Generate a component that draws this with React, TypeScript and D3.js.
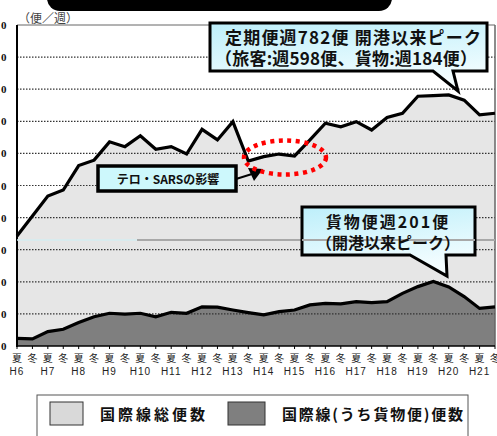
import React from "react";
import * as d3 from "d3";

const seasons = ["夏","冬","夏","冬","夏","冬","夏","冬","夏","冬","夏","冬","夏","冬","夏","冬","夏","冬","夏","冬","夏","冬","夏","冬","夏","冬","夏","冬","夏","冬","夏","冬"];
const years = ["H6","H7","H8","H9","H10","H11","H12","H13","H14","H15","H16","H17","H18","H19","H20","H21"];
const totalFlights = [343, 405, 467, 486, 562, 579, 636, 621, 655, 613, 621, 598, 675, 642, 699, 576, 590, 598, 592, 642, 694, 683, 699, 673, 712, 725, 778, 780, 782, 766, 720, 725];
const cargoFlights = [24, 22, 45, 52, 73, 91, 102, 99, 102, 91, 105, 102, 122, 121, 112, 104, 97, 107, 112, 128, 133, 131, 138, 135, 138, 164, 185, 201, 184, 154, 117, 122];
const yTicks = [0, 100, 200, 300, 400, 500, 600, 700, 800, 900, 1000];
const legendLabels = ["国際線総便数", "国際線(うち貨物便)便数"];
const unitLabel = "（便／週）";
const peakLines = ["定期便週782便 開港以来ピーク", "（旅客:週598便、貨物:週184便）"];
const cargoPeakLines = ["貨物便週201便", "（開港以来ピーク）"];
const terrorLabel = "テロ・SARSの影響";

const W = 497, H = 436;
const L = 17, R = 495, T = 25, B = 346;
const FONT = "'Noto Sans CJK JP', 'Noto Sans', sans-serif";

export default function App() {
  const x = d3.scaleLinear().domain([0, totalFlights.length - 1]).range([L, R]);
  const y = d3.scaleLinear().domain([0, 1000]).range([B, T]);
  const idx = d3.range(totalFlights.length);

  const totalArea = d3.area<number>().x(i => x(i)).y0(y(0)).y1(i => y(totalFlights[i]))(idx) || "";
  const totalLine = d3.line<number>().x(i => x(i)).y(i => y(totalFlights[i]))(idx) || "";
  const cargoArea = d3.area<number>().x(i => x(i)).y0(y(0)).y1(i => y(cargoFlights[i]))(idx) || "";
  const cargoLine = d3.line<number>().x(i => x(i)).y(i => y(cargoFlights[i]))(idx) || "";

  const callout1 = "M210,23 H487 V71 H453 L458,91 L433,71 H210 Z";
  const callout2 = "M302,207 H475 V255 H446 L447,276 L410,255 H302 Z";

  return (
    <svg width={W} height={H} style={{ position: "absolute", left: 0, top: 0, background: "#fff" }} fontFamily={FONT}>
      <defs>
        <linearGradient id="cg" x1="0" y1="0" x2="0.3" y2="1">
          <stop offset="0" stopColor="#bdeffa" />
          <stop offset="1" stopColor="#f4fdff" />
        </linearGradient>
      </defs>
      <rect x={0} y={0} width={W} height={H} fill="#fff" />
      {/* top black bar */}
      <rect x={47} y={-20} width={345} height={31} rx={13} fill="#000" />

      {/* areas */}
      <path d={totalArea} fill="#e6e6e6" />
      <path d={cargoArea} fill="#7f7f7f" />

      {/* gridlines */}
      {yTicks.filter(v => v > 0 && v < 1000).map(v => (
        <line key={v} x1={L} x2={R} y1={y(v)} y2={y(v)} stroke="#333" strokeWidth={1.2} strokeDasharray="1.5 1.5" />
      ))}
      <line x1={L} x2={R} y1={y(1000)} y2={y(1000)} stroke="#666" strokeWidth={1} />
      <line x1={R} x2={R} y1={T} y2={B} stroke="#666" strokeWidth={1.5} />

      <path d={totalLine} fill="none" stroke="#000" strokeWidth={3.2} strokeLinejoin="miter" />
      <path d={cargoLine} fill="none" stroke="#000" strokeWidth={3.2} strokeLinejoin="miter" />

      {/* axes */}
      <line x1={L} x2={L} y1={T} y2={B + 1} stroke="#000" strokeWidth={2} />
      <line x1={L} x2={R} y1={B} y2={B} stroke="#000" strokeWidth={1.5} />
      {idx.map(i => (
        <line key={i} x1={x(i)} x2={x(i)} y1={B} y2={B + 3} stroke="#000" strokeWidth={1} />
      ))}
      {yTicks.map(v => (
        <text key={v} x={9.5} y={y(v) + 4} textAnchor="end" fontSize={11} fontWeight="bold" letterSpacing={3} fontFamily="'Liberation Serif', serif" fill="#111">{v}</text>
      ))}
      {seasons.map((s, i) => (
        <text key={i} x={x(i)} y={362} textAnchor="middle" fontSize={10} fill="#222">{s}</text>
      ))}
      {years.map((yr, k) => (
        <text key={yr} x={x(k * 2)} y={375} textAnchor="middle" fontSize={10} letterSpacing={1} fontFamily="'Liberation Sans', Arial, sans-serif" fill="#222">{yr}</text>
      ))}
      <text x={18} y={23} fontSize={12} fill="#444">{unitLabel}</text>

      {/* faint line */}
      <line x1={L} x2={137} y1={240} y2={240} stroke="#d4ecf0" strokeWidth={1.5} />
      <line x1={137} x2={R} y1={240} y2={240} stroke="#a8a8a8" strokeWidth={2} />

      {/* callout 1 */}
      <path d={callout1} fill="url(#cg)" stroke="#000" strokeWidth={3} strokeLinejoin="miter" />
      <text x={225} y={44} fontSize={17} fontWeight="bold" textLength={256} lengthAdjust="spacing" fill="#111">{peakLines[0]}</text>
      <text x={215} y={65} fontSize={17} fontWeight="bold" textLength={262} lengthAdjust="spacing" fill="#111">{peakLines[1]}</text>

      {/* callout 2 */}
      <path d={callout2} fill="url(#cg)" stroke="#000" strokeWidth={3} strokeLinejoin="miter" />
      <line x1={302} x2={475} y1={240} y2={240} stroke="#a8a8a8" strokeWidth={2} />
      <text x={388} y={228} textAnchor="middle" fontSize={16} fontWeight="bold" letterSpacing={2} fill="#111">{cargoPeakLines[0]}</text>
      <text x={388} y={249} textAnchor="middle" fontSize={16} fontWeight="bold" fill="#111">{cargoPeakLines[1]}</text>

      {/* terror box */}
      <rect x={98} y={166} width={138} height={25} fill="#cdf8fc" stroke="#000" strokeWidth={3.5} />
      <text x={168} y={183.5} textAnchor="middle" fontSize={12} fontWeight="bold" fill="#111">{terrorLabel}</text>
      <line x1={236} y1={179} x2={252} y2={174} stroke="#000" strokeWidth={2} />
      <path d="M263,169 L248,168 L254,181 Z" fill="#000" />

      {/* red dotted ellipse */}
      <ellipse cx={285} cy={157.5} rx={41} ry={17} fill="none" stroke="#ff0000" strokeWidth={4.5} strokeDasharray="4 4.5" />

      {/* legend */}
      <rect x={37} y={395} width={431} height={60} fill="#fff" stroke="#555" strokeWidth={1} />
      <rect x={50} y={402} width={33} height={23} fill="#d9d9d9" stroke="#333" strokeWidth={1} />
      <text x={100} y={420} fontSize={15} fontWeight="bold" textLength={105} lengthAdjust="spacing" fill="#111">{legendLabels[0]}</text>
      <rect x={228} y={402} width={37} height={23} fill="#7f7f7f" stroke="#333" strokeWidth={1} />
      <text x={282} y={420} fontSize={15} fontWeight="bold" textLength={181} lengthAdjust="spacing" fill="#111">{legendLabels[1]}</text>
    </svg>
  );
}
